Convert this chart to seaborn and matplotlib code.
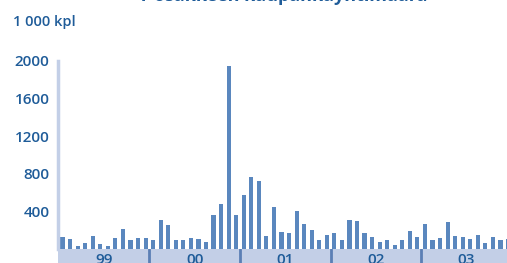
import numpy as np
import seaborn as sns
import matplotlib.pyplot as plt

# monthly trading volume, 1 000 kpl, 1999-2003
volumes = [128, 107, 32, 64, 139, 53, 32, 117, 213, 96, 117, 117,
           96, 309, 256, 96, 96, 117, 107, 75, 363, 480, 1950, 363,
           576, 768, 725, 139, 448, 181, 171, 405, 267, 203, 96, 149,
           171, 96, 309, 299, 171, 128, 75, 96, 43, 96, 192, 128,
           267, 96, 117, 288, 139, 128, 107, 149, 64, 128, 96, 107]
years = ["99", "00", "01", "02", "03"]
y_ticks = [400, 800, 1200, 1600, 2000]

bar_color = "#5a87be"
band_color = "#c3cfe7"
sep_color = "#5b7fb5"
text_color = "#1f5c99"

sns.set_theme(style="white")
plt.rcParams["font.family"] = ["Open Sans", "DejaVu Sans"]

W, H = 507, 263
fig = plt.figure(figsize=(W / 100, H / 100), dpi=100)

left = 58 / W
width = 453 / W
ax = fig.add_axes([left, 14 / H, width, 188 / H])
sns.barplot(x=list(range(len(volumes))), y=volumes, color=bar_color,
            saturation=1, width=0.55, linewidth=0, ax=ax)
ax.set_xlim(-0.6, 59.4)
ax.set_ylim(0, 2000)
ax.set_yticks(y_ticks)
ax.set_yticklabels([str(t) for t in y_ticks], color=text_color,
                   fontsize=11, fontweight="semibold")
ax.tick_params(axis="y", length=0, pad=6)
ax.set_xticks([])
ax.set_xlabel("")
for s in ["top", "right", "bottom"]:
    ax.spines[s].set_visible(False)
ax.spines["left"].set_color(band_color)
ax.spines["left"].set_linewidth(2.5)

# year band below the bars
band = fig.add_axes([left, 0, width, 14 / H])
band.set_facecolor(band_color)
band.set_xlim(-0.6, 59.4)
band.set_ylim(0, 1)
for s in band.spines.values():
    s.set_visible(False)
band.set_xticks([])
band.set_yticks([])
for i in range(1, len(years)):
    band.axvline(i * 12 - 0.5, color=sep_color, lw=2)
for i, yr in enumerate(years):
    band.text(i * 12 + 5.5, 0.75, yr, ha="center", va="top",
              color=text_color, fontsize=11, fontweight="semibold")

fig.text(13 / W, 1 - 22 / H, "1 000 kpl", color=text_color, fontsize=10.5,
         fontweight="semibold", va="center", ha="left")
fig.text(282 / W, 1 - 1 / H, "Y-osakkeen kaupankäyntimäärä", color=text_color,
         fontsize=13, fontweight="bold", ha="center", va="baseline")

fig.savefig("out.png", dpi=100)
